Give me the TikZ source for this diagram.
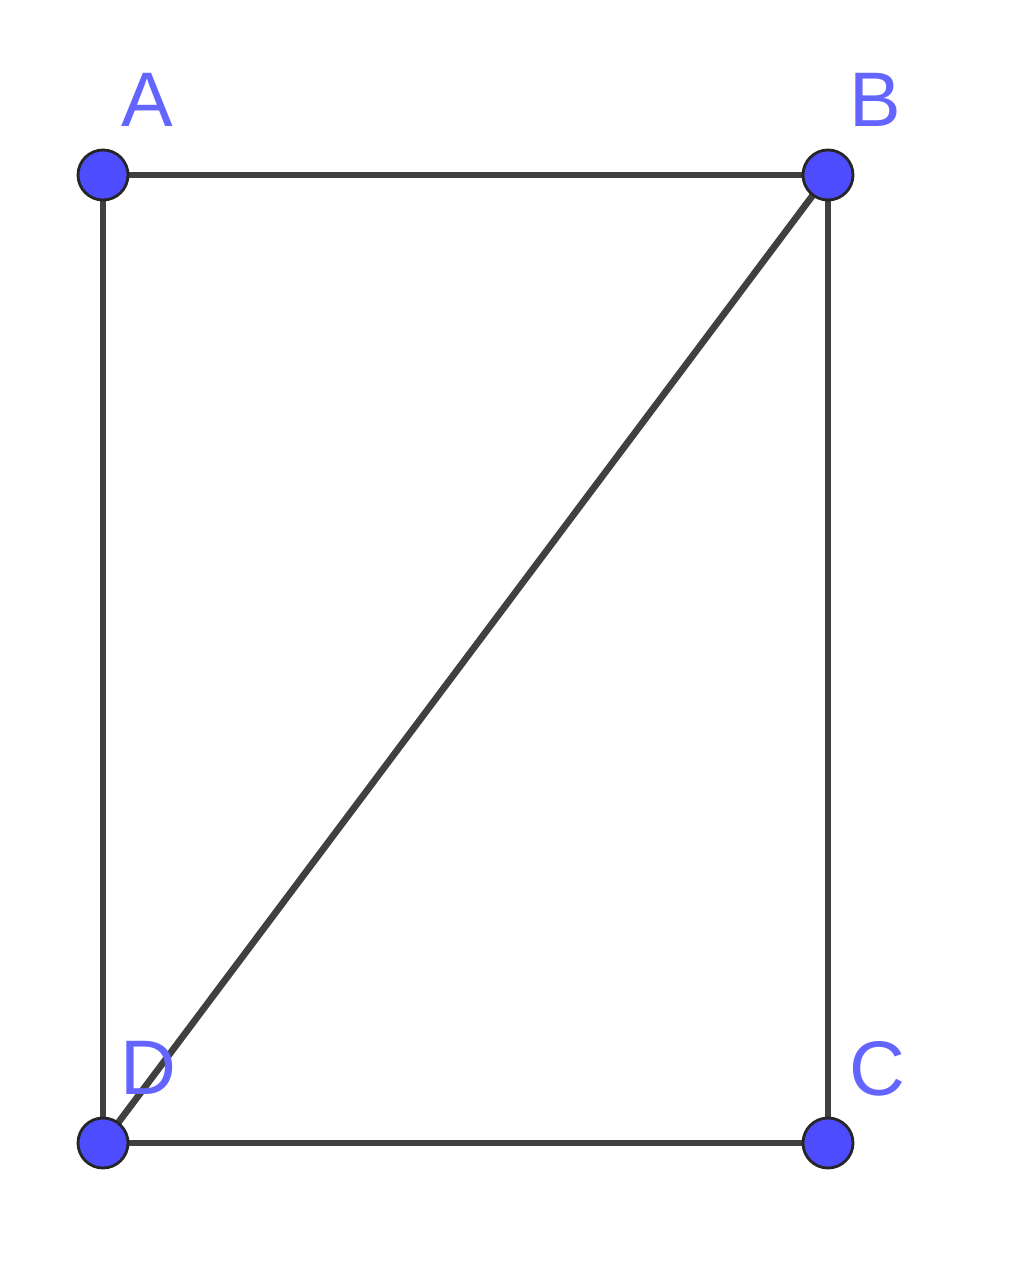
\documentclass[tikz,border=0pt]{standalone}
\usepackage{fontspec}
\setmainfont{Liberation Sans}
\definecolor{ptblue}{RGB}{77,77,255}
\definecolor{lblblue}{RGB}{100,100,255}
\definecolor{edgegray}{RGB}{64,64,64}
\tikzset{
  pt/.style={circle,fill=ptblue,draw=black!85,line width=0.8pt,inner sep=0pt,minimum size=0.5cm},
  lbl/.style={text=lblblue,font=\fontsize{22}{22}\selectfont,inner sep=0pt},
  edge/.style={edgegray,line width=1.9pt}
}
\begin{document}
\begin{tikzpicture}[x=0.01cm,y=-0.01cm]
\useasboundingbox (0,0) rectangle (1024,1267);
\coordinate (A) at (103,175);
\coordinate (B) at (828,175);
\coordinate (C) at (828,1143);
\coordinate (D) at (103,1143);
\draw[edge] (A) -- (B) -- (C) -- (D) -- cycle;
\draw[edge] (D) -- (B);
\node[lbl] (la) at (147,100) {A};
\node[lbl] (lb) at (875,100) {B};
\node[lbl] (lc) at (877,1069) {C};
\node[lbl] (ld) at (148,1068) {D};
\node[pt] (pa) at (A) {};
\node[pt] (pb) at (B) {};
\node[pt] (pc) at (C) {};
\node[pt] (pd) at (D) {};
\end{tikzpicture}
\end{document}
